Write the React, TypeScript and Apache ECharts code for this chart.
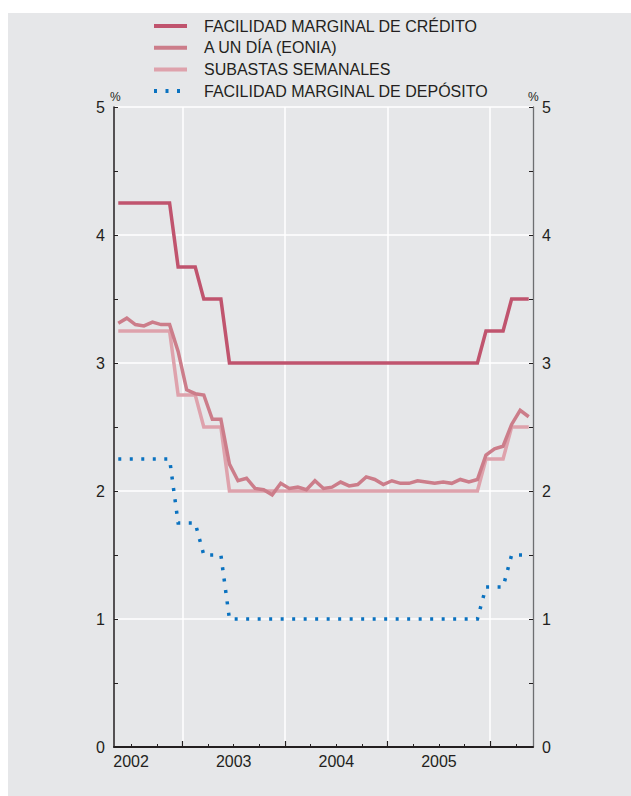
import React, { useEffect, useRef } from "react";
import * as echarts from "echarts";

// Monthly observations, May 2002 – May 2006 (values in %)
const FIRST_MONTH_INDEX = 4; // months after January 2002 (4 = May 2002)

const SERIES_NAMES = [
  "FACILIDAD MARGINAL DE CRÉDITO",
  "A UN DÍA (EONIA)",
  "SUBASTAS SEMANALES",
  "FACILIDAD MARGINAL DE DEPÓSITO",
];

const lendingFacility = [
  4.25, 4.25, 4.25, 4.25, 4.25, 4.25, 4.25, 3.75,
  3.75, 3.75, 3.5, 3.5, 3.5, 3.0, 3.0, 3.0, 3.0, 3.0, 3.0, 3.0,
  3.0, 3.0, 3.0, 3.0, 3.0, 3.0, 3.0, 3.0, 3.0, 3.0, 3.0, 3.0,
  3.0, 3.0, 3.0, 3.0, 3.0, 3.0, 3.0, 3.0, 3.0, 3.0, 3.0, 3.25,
  3.25, 3.25, 3.5, 3.5, 3.5,
];

const eonia = [
  3.31, 3.35, 3.3, 3.29, 3.32, 3.3, 3.3, 3.09,
  2.79, 2.76, 2.75, 2.56, 2.56, 2.21, 2.08, 2.1, 2.02, 2.01, 1.97, 2.06,
  2.02, 2.03, 2.01, 2.08, 2.02, 2.03, 2.07, 2.04, 2.05, 2.11, 2.09, 2.05,
  2.08, 2.06, 2.06, 2.08, 2.07, 2.06, 2.07, 2.06, 2.09, 2.07, 2.09, 2.28,
  2.33, 2.35, 2.52, 2.63, 2.58,
];

const weeklyAuctions = [
  3.25, 3.25, 3.25, 3.25, 3.25, 3.25, 3.25, 2.75,
  2.75, 2.75, 2.5, 2.5, 2.5, 2.0, 2.0, 2.0, 2.0, 2.0, 2.0, 2.0,
  2.0, 2.0, 2.0, 2.0, 2.0, 2.0, 2.0, 2.0, 2.0, 2.0, 2.0, 2.0,
  2.0, 2.0, 2.0, 2.0, 2.0, 2.0, 2.0, 2.0, 2.0, 2.0, 2.0, 2.25,
  2.25, 2.25, 2.5, 2.5, 2.5,
];

const depositFacility = [
  2.25, 2.25, 2.25, 2.25, 2.25, 2.25, 2.25, 1.75,
  1.75, 1.75, 1.5, 1.5, 1.5, 1.0, 1.0, 1.0, 1.0, 1.0, 1.0, 1.0,
  1.0, 1.0, 1.0, 1.0, 1.0, 1.0, 1.0, 1.0, 1.0, 1.0, 1.0, 1.0,
  1.0, 1.0, 1.0, 1.0, 1.0, 1.0, 1.0, 1.0, 1.0, 1.0, 1.0, 1.25,
  1.25, 1.25, 1.5, 1.5, 1.5,
];

const YEAR_LABELS = ["2002", "2003", "2004", "2005"];
const X_MIN = 4; // May 2002
const X_MAX = 53; // June 2006
const Y_TICKS_MAX = 5;

const FONT = "'Liberation Sans', Arial, Helvetica, sans-serif";
const TEXT = "#231f20";
const BG = "#e6e7e9";
const COLORS = ["#c0546e", "#cc7d8a", "#dea2ac", "#0a72c0"];

// month index (mid-month) for each observation
const toPoints = (vals: number[]) =>
  vals.map((v, i) => [FIRST_MONTH_INDEX + 0.5 + i, v]);

const quarterTicks: number[] = [];
for (let m = 3; m < X_MAX; m += 3) if (m % 12 !== 0 && m > X_MIN) quarterTicks.push(m);
const yearTicks = YEAR_LABELS.map((_, i) => 12 * (i + 1));
const yearLabelPos = YEAR_LABELS.map((_, i) => 12 * i + 6);

export default function App() {
  const ref = useRef<HTMLDivElement>(null);
  useEffect(() => {
    if (!ref.current) return;
    const chart = echarts.init(ref.current, undefined, { renderer: "svg" });
    const lineSeries = (name: string, data: number[], color: string, z: number, dashed = false) => ({
      name,
      type: "line",
      data: toPoints(data),
      symbol: "none",
      showSymbol: false,
      z,
      color,
      lineStyle: {
        color,
        width: 3.5,
        type: dashed ? [3, 8.5] : "solid",
        cap: "butt",
        join: "miter",
      },
    });
    chart.setOption({
      animation: false,
      backgroundColor: BG,
      textStyle: { fontFamily: FONT },
      legend: {
        orient: "vertical",
        left: 139,
        top: 0,
        itemWidth: 33,
        itemHeight: 16,
        itemGap: 5.7,
        data: SERIES_NAMES,
        selectedMode: false,
        itemStyle: { opacity: 0 },
        lineStyle: { width: 4 },
        textStyle: { fontSize: 16, color: TEXT, fontFamily: FONT, padding: [0, 0, 0, 12] },
      },
      grid: { left: 106, right: 98, top: 94, bottom: 49, containLabel: false },
      xAxis: [
        {
          type: "value",
          min: X_MIN,
          max: X_MAX,
          position: "bottom",
          axisLine: { show: true, onZero: false, lineStyle: { color: TEXT, width: 2 } },
          axisTick: { show: true, inside: true, length: 3, customValues: quarterTicks, lineStyle: { color: TEXT, width: 1 } },
          axisLabel: {
            show: true,
            customValues: yearLabelPos,
            formatter: (v: number) => YEAR_LABELS[Math.round((v - 6) / 12)] ?? "",
            fontSize: 16,
            color: TEXT,
            margin: 6,
            fontFamily: FONT,
          },
          splitLine: { show: false },
        },
        {
          type: "value",
          min: X_MIN,
          max: X_MAX,
          position: "bottom",
          axisLine: { show: false, onZero: false },
          axisTick: { show: true, inside: true, length: 6, customValues: yearTicks, lineStyle: { color: TEXT, width: 1.2 } },
          axisLabel: { show: false },
          splitLine: { show: true, lineStyle: { color: "#ffffff", width: 1.5 } },
        },
      ],
      yAxis: [
        {
          type: "value",
          min: 0,
          max: Y_TICKS_MAX,
          interval: 1,
          position: "left",
          axisLine: { show: true, lineStyle: { color: TEXT, width: 1.5 } },
          axisTick: { show: true, inside: true, length: 4, lineStyle: { color: TEXT } },
          minorTick: { show: true, splitNumber: 2, length: 4, lineStyle: { color: TEXT } },
          axisLabel: { fontSize: 16, color: TEXT, margin: 9, fontFamily: FONT },
          splitLine: { show: true, lineStyle: { color: "#ffffff", width: 1.5 } },
        },
        {
          type: "value",
          min: 0,
          max: Y_TICKS_MAX,
          interval: 1,
          position: "right",
          axisLine: { show: true, lineStyle: { color: "#6d6e71", width: 1.3 } },
          axisTick: { show: true, inside: true, length: 4, lineStyle: { color: TEXT } },
          minorTick: { show: true, splitNumber: 2, length: 4, lineStyle: { color: TEXT } },
          axisLabel: { fontSize: 16, color: TEXT, margin: 9, fontFamily: FONT },
          splitLine: { show: false },
        },
      ],
      graphic: [
        { type: "text", left: 102, top: 78, style: { text: "%", fontSize: 12, fill: TEXT, fontFamily: FONT } },
        { type: "text", left: 520, top: 78, style: { text: "%", fontSize: 12, fill: TEXT, fontFamily: FONT } },
      ],
      series: [
        lineSeries(SERIES_NAMES[3], depositFacility, COLORS[3], 2, true),
        lineSeries(SERIES_NAMES[2], weeklyAuctions, COLORS[2], 3),
        lineSeries(SERIES_NAMES[1], eonia, COLORS[1], 4),
        lineSeries(SERIES_NAMES[0], lendingFacility, COLORS[0], 5),
      ],
    });
    return () => chart.dispose();
  }, []);
  return (
    <div
      ref={ref}
      style={{ position: "fixed", left: 8, top: 13, width: 623, height: 783, background: BG }}
    />
  );
}
